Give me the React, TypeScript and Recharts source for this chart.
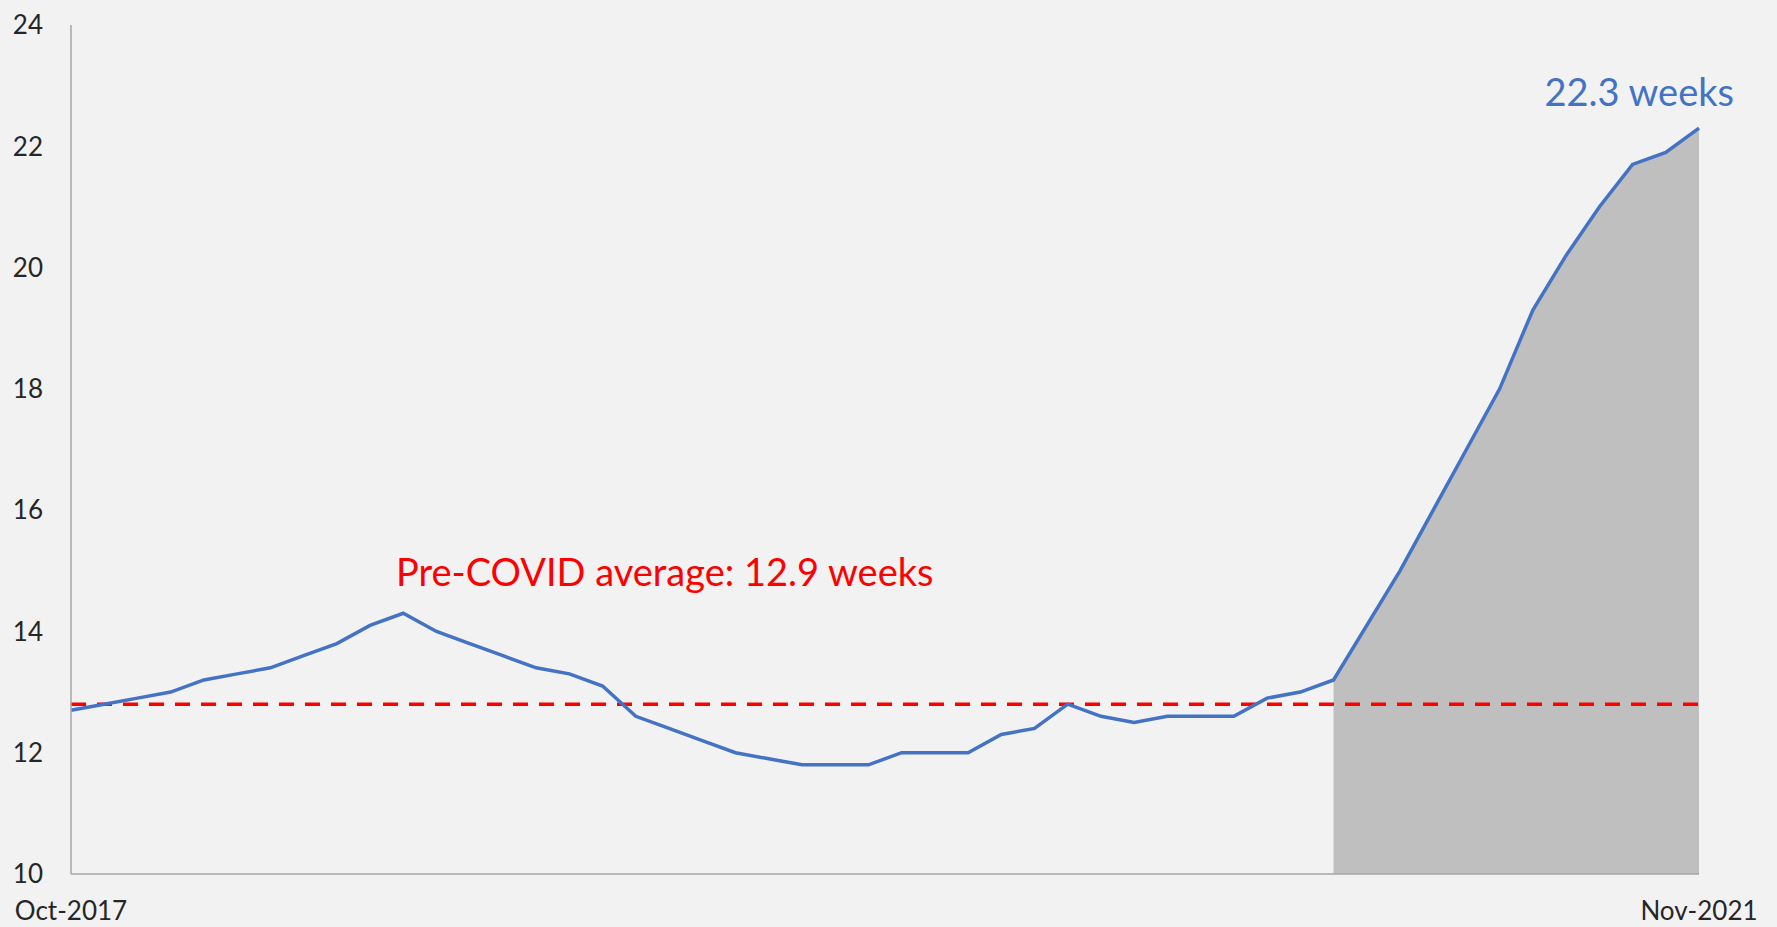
import React from "react";
import {
  ComposedChart,
  Line,
  Area,
  XAxis,
  YAxis,
  ReferenceLine,
  ReferenceDot,
} from "recharts";

const months: string[] = [
  "Oct-2017", "Nov-2017", "Dec-2017",
  "Jan-2018", "Feb-2018", "Mar-2018", "Apr-2018", "May-2018", "Jun-2018",
  "Jul-2018", "Aug-2018", "Sep-2018", "Oct-2018", "Nov-2018", "Dec-2018",
  "Jan-2019", "Feb-2019", "Mar-2019", "Apr-2019", "May-2019", "Jun-2019",
  "Jul-2019", "Aug-2019", "Sep-2019", "Oct-2019", "Nov-2019", "Dec-2019",
  "Jan-2020", "Feb-2020", "Mar-2020", "Apr-2020", "May-2020", "Jun-2020",
  "Jul-2020", "Aug-2020", "Sep-2020", "Oct-2020", "Nov-2020", "Dec-2020",
  "Jan-2021", "Feb-2021", "Mar-2021", "Apr-2021", "May-2021", "Jun-2021",
  "Jul-2021", "Aug-2021", "Sep-2021", "Oct-2021", "Nov-2021",
];

const weeks: number[] = [
  12.7, 12.8, 12.9, 13.0, 13.2, 13.3, 13.4, 13.6, 13.8, 14.1,
  14.3, 14.0, 13.8, 13.6, 13.4, 13.3, 13.1, 12.6, 12.4, 12.2,
  12.0, 11.9, 11.8, 11.8, 11.8, 12.0, 12.0, 12.0, 12.3, 12.4,
  12.8, 12.6, 12.5, 12.6, 12.6, 12.6, 12.9, 13.0, 13.2, 14.1,
  15.0, 16.0, 17.0, 18.0, 19.3, 20.2, 21.0, 21.7, 21.9, 22.3,
];

const shadeStartIndex = 38;
const preCovidLine = 12.8;
const preCovidLabel = "Pre-COVID average: 12.9 weeks";
const latestLabel = "22.3 weeks";
const yTicks: number[] = [10, 12, 14, 16, 18, 20, 22, 24];
const xTickIdx: number[] = [0, months.length - 1];

const data = weeks.map((w, i) => ({
  idx: i,
  month: months[i],
  weeks: w,
  shade: i >= shadeStartIndex ? w : null,
}));

const FONT = "Lato, 'Noto Sans', sans-serif";

const PreCovidText = (props: any) => {
  const vb = props.viewBox || {};
  return (
    <text
      x={vb.x + 325}
      y={vb.y - 118}
      fill="#FF0000"
      fontSize={38}
      fontFamily={FONT}
      textAnchor="start"
    >
      {preCovidLabel}
    </text>
  );
};

const LatestText = (props: any) => {
  const vb = props.viewBox || {};
  const cx = vb.x + (vb.width || 0) / 2;
  const cy = vb.y + (vb.height || 0) / 2;
  return (
    <text
      x={cx + 35}
      y={cy - 22}
      fill="#4472C4"
      fontSize={38}
      fontFamily={FONT}
      textAnchor="end"
    >
      {latestLabel}
    </text>
  );
};

export default function App() {
  return (
    <div
      style={{
        position: "absolute",
        left: 0,
        top: 0,
        width: 1777,
        height: 927,
        background: "#F2F2F2",
      }}
    >
      <ComposedChart
        width={1777}
        height={927}
        data={data}
        margin={{ top: 25, right: 78, bottom: 0, left: 0 }}
      >
        <XAxis
          dataKey="idx"
          type="number"
          domain={[0, months.length - 1]}
          ticks={xTickIdx}
          tickFormatter={(v: number) => months[v]}
          interval={0}
          axisLine={{ stroke: "#A6A6A6", strokeWidth: 1.5 }}
          tickLine={false}
          tickSize={0}
          tickMargin={28}
          height={53}
          tick={{ fill: "#262626", fontSize: 26, fontFamily: FONT }}
        />
        <YAxis
          type="number"
          domain={[10, 24]}
          ticks={yTicks}
          interval={0}
          width={71}
          axisLine={{ stroke: "#A6A6A6", strokeWidth: 1.5 }}
          tickLine={false}
          tickSize={0}
          tickMargin={28}
          tick={{ fill: "#262626", fontSize: 26, fontFamily: FONT }}
        />
        <Area
          dataKey="shade"
          type="linear"
          fill="#BFBFBF"
          fillOpacity={1}
          stroke="none"
          baseValue={10}
          connectNulls={false}
          isAnimationActive={false}
          dot={false}
          activeDot={false}
        />
        <ReferenceLine
          y={preCovidLine}
          stroke="#FF0000"
          strokeWidth={3.5}
          strokeDasharray="15 11"
          label={<PreCovidText />}
        />
        <Line
          dataKey="weeks"
          type="linear"
          stroke="#4472C4"
          strokeWidth={3.5}
          dot={false}
          activeDot={false}
          isAnimationActive={false}
        />
        <ReferenceDot
          x={months.length - 1}
          y={weeks[weeks.length - 1]}
          r={0}
          fill="none"
          stroke="none"
          label={<LatestText />}
        />
      </ComposedChart>
    </div>
  );
}
